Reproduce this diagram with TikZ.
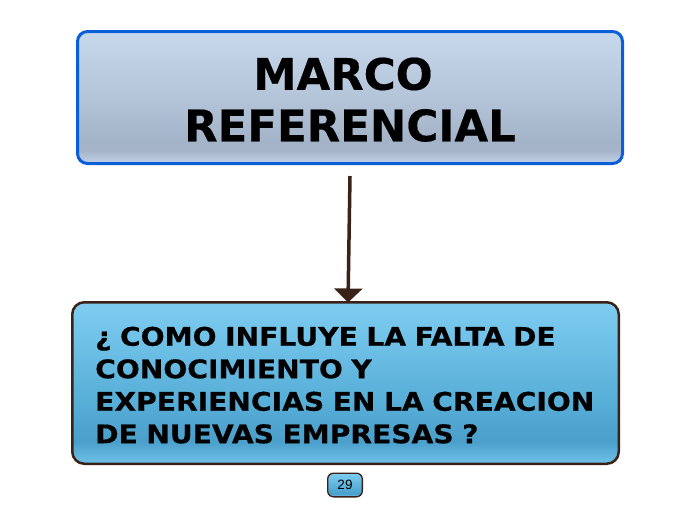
\documentclass[tikz,border=0pt]{standalone}
\usepackage{fontspec}
\usetikzlibrary{arrows.meta}
\newfontfamily\titlefont[FakeBold=0.4]{DejaVu Sans}
\newfontfamily\questfont[FakeStretch=1.1,FakeBold=0.5]{DejaVu Sans}
\newfontfamily\numfont{Liberation Sans}
\definecolor{topborder}{HTML}{0A5FD8}
\definecolor{brownline}{HTML}{3A2218}
\definecolor{gA}{HTML}{C2D2E8}
\definecolor{gB}{HTML}{A5B4C9}
\definecolor{gC}{HTML}{A3B3C8}
\definecolor{gD}{HTML}{B4C4D9}
\definecolor{gE}{HTML}{C8D8EC}
\definecolor{bA}{HTML}{6FC2E8}
\definecolor{bB}{HTML}{4A9FCB}
\definecolor{bC}{HTML}{58AFD8}
\definecolor{bD}{HTML}{7FCDF1}
\pgfdeclareverticalshading{topshade}{100bp}{color(0bp)=(gA); color(25bp)=(gA); color(30bp)=(gB); color(34bp)=(gC); color(50bp)=(gD); color(75bp)=(gE); color(100bp)=(gE)}
\pgfdeclareverticalshading{blueshade}{100bp}{color(0bp)=(bA); color(25bp)=(bA); color(32bp)=(bB); color(45bp)=(bC); color(75bp)=(bD); color(100bp)=(bD)}
\tikzset{
  titlebox/.style={rectangle, rounded corners=10pt, draw=topborder, line width=3pt, shading=topshade, minimum width=545pt, minimum height=132pt, inner sep=0pt},
  questbox/.style={rectangle, rounded corners=12pt, draw=brownline, line width=2.5pt, shading=blueshade, minimum width=546.5pt, minimum height=161.5pt, inner sep=0pt},
  pagebox/.style={rectangle, rounded corners=6pt, draw=brownline, line width=1.3pt, shading=blueshade, minimum width=34.7pt, minimum height=23.7pt, inner sep=0pt},
  titletext/.style={inner sep=0pt, align=center, font=\titlefont\bfseries\fontsize{43.5}{51.5}\selectfont},
  questtext/.style={inner sep=0pt, align=left, text width=530pt, font=\questfont\bfseries\fontsize{25.6}{32.5}\selectfont},
  linkarrow/.style={draw=brownline, line width=3.5pt, -{Triangle[width=28pt,length=14pt]}}
}
\begin{document}
\begin{tikzpicture}[x=1pt,y=-1pt]
\useasboundingbox (0,0) rectangle (696,520);
\node[titlebox] (top) at (350,97.5) {};
\node[titletext, anchor=north] (toptext) at (350,57.3) {MARCO\hspace*{14pt}\\REFERENCIAL};
\node[questbox] (quest) at (345.5,383) {};
\node[questtext, anchor=north west] (questtext) at (95,326.5) {¿ COMO INFLUYE LA FALTA DE\\CONOCIMIENTO Y\\EXPERIENCIAS EN LA CREACION\\DE NUEVAS EMPRESAS ?};
\node[pagebox] (page) at (345,485) {};
\node[inner sep=0pt, font=\numfont\fontsize{13.5}{15}\selectfont] (pagenum) at (345,485) {29};
\coordinate (astart) at (350,176);
\coordinate (aend) at (348,302.5);
\draw[linkarrow] (astart) -- (aend);
\end{tikzpicture}
\end{document}
